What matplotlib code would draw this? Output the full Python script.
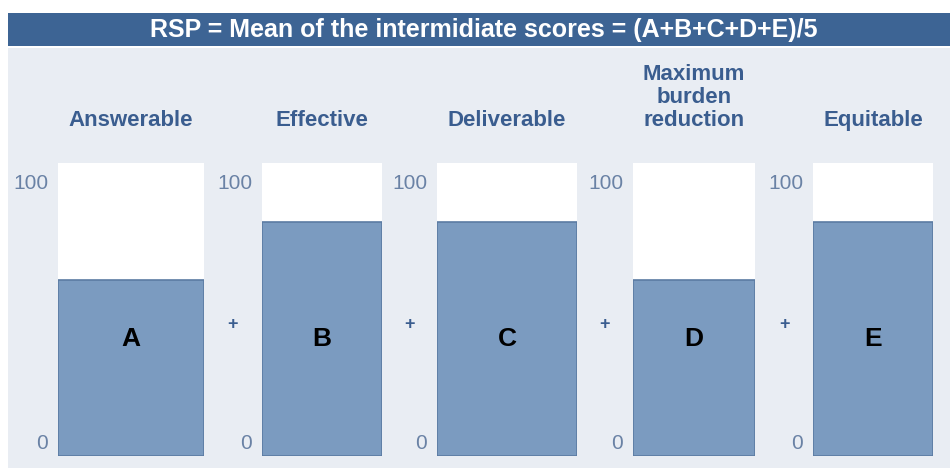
import matplotlib
matplotlib.use("Agg")
import matplotlib.pyplot as plt
from matplotlib.patches import Rectangle

# chart content
title = "RSP = Mean of the intermidiate scores = (A+B+C+D+E)/5"
categories = ["Answerable", "Effective", "Deliverable", "Maximum\nburden\nreduction", "Equitable"]
letters = ["A", "B", "C", "D", "E"]
scores = [60, 80, 80, 60, 80]
scale_min, scale_max = 0, 100

# layout in pixels (image coords, y from top)
W, H = 950, 468
panel_x = [(58, 204), (262, 382), (437, 577), (633, 755), (813, 933)]
panel_top, panel_bot = 163, 456

bg = "#e9edf3"
bar_blue = "#7b9bc0"
bar_edge = "#5b7ba3"
head_blue = "#3d6494"
label_blue = "#3a5d8f"
tick_col = "#6a82a5"

fig = plt.figure(figsize=(W / 100, H / 100), dpi=100)
fig.patch.set_facecolor("white")


def fx(x):
    return x / W


def fy(y):
    return 1 - y / H


# grey background and title band
fig.patches.append(Rectangle((fx(8), 0), 1 - fx(8), fy(48), transform=fig.transFigure,
                             facecolor=bg, edgecolor="none", zorder=-2))
fig.patches.append(Rectangle((fx(8), fy(46)), 1 - fx(8), fy(13) - fy(46), transform=fig.transFigure,
                             facecolor=head_blue, edgecolor="none", zorder=-2))
fig.text(fx(484), fy(30), title, color="white", fontsize=18, fontweight="bold",
         family="Liberation Sans", ha="center", va="center")

for i in range(len(scores)):
    x0, x1 = panel_x[i]
    ax = fig.add_axes([fx(x0), fy(panel_bot), fx(x1 - x0), fy(panel_top) - fy(panel_bot)])
    ax.set_zorder(1)
    ax.set_facecolor("white")
    ax.bar([0], [scores[i]], width=1.0, color=bar_blue, edgecolor=bar_edge, linewidth=1.2)
    ax.set_xlim(-0.5, 0.5)
    ax.set_ylim(scale_min, scale_max)
    for s in ax.spines.values():
        s.set_visible(False)
    ax.set_xticks([])
    ax.set_yticks([])
    ax.text(0, 40, letters[i], ha="center", va="center", fontsize=19, fontweight="bold",
            color="black", family="Liberation Sans")
    # scale labels
    ax.annotate(str(scale_max), (0, 1), xycoords="axes fraction", xytext=(-7, -8),
                textcoords="offset points", ha="right", va="top", fontsize=15,
                color=tick_col, family="Liberation Sans", annotation_clip=False)
    ax.annotate(str(scale_min), (0, 0), xycoords="axes fraction", xytext=(-7, 2),
                textcoords="offset points", ha="right", va="bottom", fontsize=15,
                color=tick_col, family="Liberation Sans", annotation_clip=False)
    # category heading
    fig.text(fx((x0 + x1) / 2), fy(131), categories[i], ha="center", va="bottom",
             multialignment="center", linespacing=1.12, fontsize=16, fontweight="bold",
             color=label_blue, family="Liberation Sans")
    # plus sign between panels
    if i < len(scores) - 1:
        nx0 = panel_x[i + 1][0]
        fig.text(fx((x1 + nx0) / 2), fy(325), "+", ha="center", va="center",
                 fontsize=13, fontweight="bold", color=label_blue, family="Liberation Sans")

fig.savefig("out.png", dpi=100, facecolor=fig.get_facecolor())
